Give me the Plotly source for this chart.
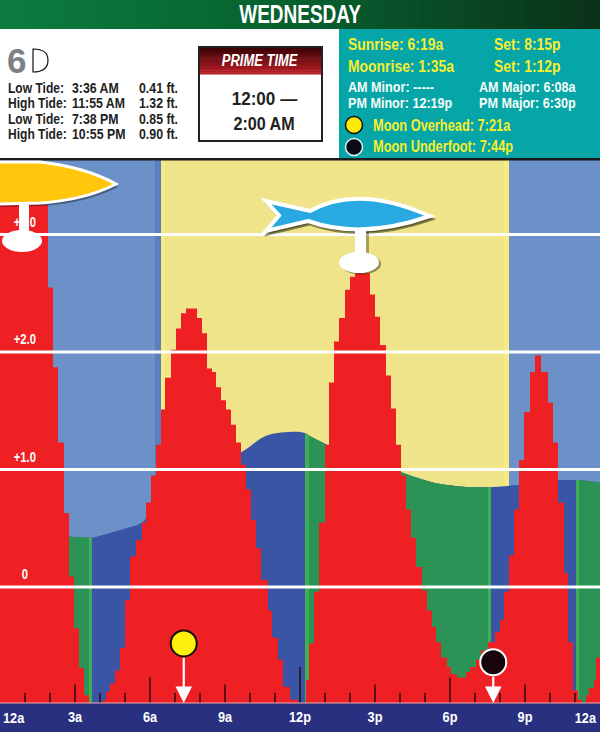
import plotly.graph_objects as go

# ---------- data (hours after midnight / feet on the chart scale) ----------
step_hours = [0, 1.92, 2.12, 2.32, 2.56, 2.76, 2.96, 3.16, 3.36, 3.56,
              4.12, 4.24, 4.40, 4.60, 4.80, 5.00, 5.20, 5.44, 5.68, 5.84, 6.04, 6.24, 6.44, 6.60, 6.84, 7.04, 7.24, 7.44,
              7.88, 8.08, 8.28, 8.48, 8.64, 8.84, 9.04, 9.24, 9.44, 9.64, 9.84, 10.04, 10.24, 10.44, 10.72, 10.88, 11.12, 11.32, 11.60, 11.92,
              12.24, 12.36, 12.56, 12.76, 13.00, 13.16, 13.36, 13.56, 13.80, 14.00, 14.20,
              14.80, 15.00, 15.20, 15.44, 15.64, 15.84, 16.04, 16.24, 16.44, 16.64, 16.88, 17.08, 17.28, 17.44, 17.64, 17.88, 18.04, 18.28,
              18.64, 18.80, 19.04, 19.24, 19.52, 19.80, 20.00, 20.16, 20.36, 20.56, 20.76, 20.96, 21.20, 21.40,
              21.64, 21.92, 22.12, 22.32, 22.56, 22.72, 22.92, 23.12, 23.28, 23.44, 23.56, 23.76, 23.84, 24]
step_feet = [3.25, 2.55, 1.87, 1.23, 0.63, 0.09, -0.35, -0.69, -0.92, -0.99,
             -0.96, -0.89, -0.82, -0.71, -0.52, -0.11, 0.26, 0.40, 0.55, 0.72, 0.95, 1.21, 1.51, 1.78, 2.02, 2.20, 2.33, 2.37,
             2.29, 2.16, 1.86, 1.83, 1.70, 1.59, 1.51, 1.38, 1.23, 1.04, 0.83, 0.57, 0.33, 0.06, -0.20, -0.43, -0.62, -0.85, -0.96, -0.99,
             -0.79, -0.48, -0.04, 0.55, 1.21, 1.74, 2.09, 2.29, 2.53, 2.64, 2.67,
             2.49, 2.30, 2.06, 1.80, 1.52, 1.21, 0.95, 0.66, 0.42, 0.17, -0.03, -0.20, -0.34, -0.47, -0.60, -0.68, -0.74, -0.77,
             -0.72, -0.68, -0.62, -0.54, -0.47, -0.38, -0.28, -0.04, 0.27, 0.66, 1.08, 1.49, 1.83, 1.97,
             1.83, 1.57, 1.23, 0.72, 0.12, -0.47, -0.88, -0.96, -0.99, -0.92, -0.86, -0.79, -0.60, -0.60]

tide_hours = [0, 1.2, 2.4, 2.76, 3.56, 3.68, 4.40, 5.20, 5.68, 7.00, 9.60, 10.68, 12.00, 12.20, 12.36, 13.00, 16.00, 17.32, 18.80, 19.52, 19.64, 20.80, 22.40, 23.04, 23.16, 24]
tide_feet = [0.95, 0.70, 0.46, 0.43, 0.42, 0.42, 0.46, 0.51, 0.55, 0.87, 1.14, 1.29, 1.32, 1.31, 1.29, 1.22, 0.98, 0.89, 0.85, 0.85, 0.85, 0.87, 0.91, 0.91, 0.91, 0.89]
green_spans = [(2.76, 3.68), (12.20, 13.00), (16.00, 19.64), (23.04, 24)]
bright_spans = [(3.56, 3.68), (12.20, 12.36), (19.52, 19.64), (23.04, 23.16)]

sky_start = [0, 6.44, 20.36]
sky_end = [6.44, 20.36, 24]
sky_color = ["#6C90C8", "#EFE48A", "#6C90C8"]
edge_start = [6.20, 6.44, 20.16]
edge_end = [6.44, 6.60, 20.36]
edge_color = ["#5A7EBE", "#F7EC84", "#F7EC84"]

grid_levels = [3, 2, 1, 0]
grid_labels = ["+3.0", "+2.0", "+1.0", "0"]
tick_hours = list(range(1, 24))
tick_feet = [-0.90, -0.90, -0.83, -0.90, -0.90, -0.77, -0.90, -0.90, -0.83, -0.90, -0.90, -0.68,
             -0.90, -0.90, -0.83, -0.90, -0.90, -0.77, -0.90, -0.90, -0.83, -0.90, -0.90]
hour_ticks = [3, 6, 9, 12, 15, 18, 21]
hour_labels = ["3a", "6a", "9a", "12p", "3p", "6p", "9p"]
moon_hours = [7.35, 19.73]
moon_feet = [-0.48, -0.64]

tide_rows = [("Low Tide:", "3:36 AM", "0.41 ft."), ("High Tide:", "11:55 AM", "1.32 ft."),
             ("Low Tide:", "7:38 PM", "0.85 ft."), ("High Tide:", "10:55 PM", "0.90 ft.")]

# ---------- palette / layout constants ----------
RED, WATER, GREEN, BRIGHT = "#EE2024", "#3A55A5", "#2B9355", "#3FAF55"
NAVY, TEAL, YEL = "#29307F", "#05A5A8", "#F6EF2E"
SANS = "Liberation Sans, Arial, sans-serif"
TOP, BOT = 160, 703
Y_MIN, Y_MAX = -0.987, 3.634


def px(x):
    return x / 600


def py(y):
    return (BOT - y) / (BOT - TOP)


fig = go.Figure()


def area(xs, ys, color, shape="linear"):
    fig.add_trace(go.Scatter(x=[xs[0], xs[-1]], y=[Y_MIN, Y_MIN], mode="lines", line=dict(width=0),
                             showlegend=False, hoverinfo="skip"))
    fig.add_trace(go.Scatter(x=xs, y=ys, mode="lines", line=dict(width=0, shape=shape, color=color),
                             fill="tonexty", fillcolor=color, showlegend=False, hoverinfo="skip"))


def bars(starts, ends, colors):
    fig.add_trace(go.Bar(x=[(a + b) / 2 for a, b in zip(starts, ends)],
                         width=[b - a for a, b in zip(starts, ends)],
                         y=[Y_MAX - Y_MIN] * len(starts), base=Y_MIN,
                         marker=dict(color=colors, line=dict(width=0)),
                         showlegend=False, hoverinfo="skip"))


bars(sky_start, sky_end, sky_color)
bars(edge_start, edge_end, edge_color)

area(tide_hours, tide_feet, WATER, "spline")


def span_points(a, b):
    pts = [(h, f) for h, f in zip(tide_hours, tide_feet) if a <= h <= b]
    return [p[0] for p in pts], [p[1] for p in pts]


for a, b in green_spans:
    xs, ys = span_points(a, b)
    area(xs, ys, GREEN, "spline")
for a, b in bright_spans:
    xs, ys = span_points(a, b)
    area(xs, ys, BRIGHT)

area(step_hours, step_feet, RED, "hv")

# hour tick marks
tx, ty = [], []
for h, f in zip(tick_hours, tick_feet):
    tx += [h, h, None]
    ty += [Y_MIN, f, None]
fig.add_trace(go.Scatter(x=tx, y=ty, mode="lines", line=dict(color="#2A0A10", width=1.5),
                         showlegend=False, hoverinfo="skip"))

# moon markers
fig.add_trace(go.Scatter(x=moon_hours, y=moon_feet, mode="markers",
                         marker=dict(size=26, color=["#FFEF0C", "#16060C"],
                                     line=dict(width=2, color=["#111111", "#FFFFFF"])),
                         showlegend=False, hoverinfo="skip"))

shapes = []
annots = []


def rect(x0, y0, x1, y1, color, line=None, lw=0, layer="above"):
    shapes.append(dict(type="rect", xref="paper", yref="paper", x0=px(x0), x1=px(x1), y0=py(y0), y1=py(y1),
                       fillcolor=color, line=dict(color=line or color, width=lw), layer=layer))


def lerp_hex(c0, c1, t):
    a = [int(c0[i:i + 2], 16) for i in (1, 3, 5)]
    b = [int(c1[i:i + 2], 16) for i in (1, 3, 5)]
    return "#%02X%02X%02X" % tuple(round(p + (q - p) * t) for p, q in zip(a, b))


def path(points, fill, line=None, lw=0, dx=0, dy=0):
    parts = []
    for cmd in points:
        op = cmd[0]
        vals = cmd[1:]
        coords = []
        for i in range(0, len(vals), 2):
            coords.append(f"{px(vals[i] + dx):.5f},{py(vals[i + 1] + dy):.5f}")
        parts.append(op + " " + " ".join(coords))
    shapes.append(dict(type="path", xref="paper", yref="paper", path=" ".join(parts) + " Z",
                       fillcolor=fill, line=dict(color=line or fill, width=lw)))


def ellipse(cx, cy, rx, ry, fill, line=None, lw=0):
    shapes.append(dict(type="circle", xref="paper", yref="paper", x0=px(cx - rx), x1=px(cx + rx),
                       y0=py(cy - ry), y1=py(cy + ry), fillcolor=fill, line=dict(color=line or fill, width=lw)))


def text(x, y, s, size, color="#222222", anchor="left", bold=True, italic=False, k=1.0):
    t = s
    if bold:
        t = f"<b>{t}</b>"
    if italic:
        t = f"<i>{t}</i>"
    annots.append(dict(xref="paper", yref="paper", x=px(x), y=py(y), text=t, showarrow=False,
                       xanchor=anchor, yanchor="middle", borderpad=0, name=str(k),
                       font=dict(family=SANS, size=size, color=color)))


# header gradient
n = 40
for i in range(n):
    x0, x1 = 600 * i / n, 600 * (i + 1) / n + 0.5
    t = i / (n - 1)
    c = lerp_hex("#0B7B40", "#07602F", min(t / 0.5, 1)) if t < 0.5 else lerp_hex("#07602F", "#0A3319", (t - 0.5) / 0.5)
    rect(x0, 0, x1, 29, c)
rect(0, 29, 339, 158, "#FFFFFF")
rect(339, 29, 600, 158, TEAL)
rect(0, 158, 600, 160.5, "#1B1B1B")
rect(0, 703, 600, 732, NAVY, layer="below")
rect(0, 702.5, 600, 703.5, "#F4A9A9")

# grid lines above the bars
for lvl in grid_levels:
    shapes.append(dict(type="line", xref="paper", yref="y", x0=0, x1=1, y0=lvl, y1=lvl,
                       line=dict(color="#FFFFFF", width=3)))

# sun icon
sun = [("M", -3, 162), ("L", 40, 162), ("Q", 85, 167, 116, 184), ("Q", 85, 200, 40, 203), ("L", -3, 204)]
path(sun, "rgba(0,0,0,0.35)", dx=2, dy=3)
path(sun, "#FFC60B", "#FFFFFF", 3)
rect(19, 205, 29, 234, "#FFFFFF")
ellipse(22, 241, 20, 11, "#FFFFFF")

# fish icon
fish = [("M", 266, 201), ("L", 310, 211), ("Q", 358, 184, 430, 216), ("Q", 362, 240, 308, 221),
        ("L", 266, 231), ("L", 279, 215.5)]
path(fish, "rgba(30,30,0,0.5)", "rgba(30,30,0,0.5)", 3, dx=2, dy=3)
rect(356, 232, 369, 256, "rgba(30,30,0,0.35)")
ellipse(361, 264, 20, 10.5, "rgba(30,30,0,0.45)")
path(fish, "#29A9E1", "#FFFFFF", 4)
rect(355, 230, 366, 256, "#FFFFFF")
ellipse(359, 262.5, 20, 10.5, "#FFFFFF")

# moon arrows
for h, f in zip(moon_hours, moon_feet):
    annots.append(dict(x=h, y=Y_MIN, ax=h, ay=f - 0.11, xref="x", yref="y", axref="x", ayref="y", text="",
                       showarrow=True, arrowhead=2, arrowsize=1.5, arrowwidth=2.2, arrowcolor="#FFFFFF"))

# grid labels
for lvl, lab in zip(grid_levels, grid_labels):
    annots.append(dict(x=1.0, y=lvl, xref="x", yref="y", text=f"<b>{lab}</b>", showarrow=False,
                       yanchor="bottom", yshift=3, name="0.8", font=dict(family=SANS, size=14, color="#FFFFFF")))

# axis end labels
text(2, 717, "12a", 15, "#FFFFFF", k=0.85)
text(598, 717, "12a", 15, "#FFFFFF", "right", k=0.85)

# title
text(300, 14, "WEDNESDAY", 25, "#FFFFFF", "center", k=0.76)

# left panel
text(6, 60, "6", 35, "#7D8083")
path([("M", 33, 49), ("L", 33, 72), ("Q", 48, 72, 48, 60), ("Q", 48, 49, 33, 49)], "rgba(255,255,255,0)", "#111111", 1.2)
for row, y in zip(tide_rows, [88, 103, 119, 134]):
    text(7, y, row[0], 14, k=0.86)
    text(70.5, y, row[1], 14, k=0.88)
    text(138, y, row[2], 14, k=0.88)

# prime time box
rect(199, 47, 322, 141, "#FFFFFF", "#222222", 2)
m = 14
for i in range(m):
    y0 = 48 + 26 * i / m
    rect(200, y0, 321, y0 + 26 / m + 0.5, lerp_hex("#3E0205", "#B81F26", i / (m - 1)))
text(260.5, 61, "PRIME TIME", 16, "#FFFFFF", "center", italic=True, k=0.81)
text(264, 99, "12:00 —", 19, "#222222", "center", k=0.9)
text(264, 124, "2:00 AM", 19, "#222222", "center", k=0.85)

# teal panel
text(347, 44, "Sunrise: 6:19a", 16, YEL, k=0.87)
text(493, 44, "Set: 8:15p", 16, YEL, k=0.87)
text(347, 66, "Moonrise: 1:35a", 16, YEL, k=0.87)
text(493, 66, "Set: 1:12p", 16, YEL, k=0.87)
text(347, 87, "AM Minor: -----", 14, "#F4FBF6", k=0.9)
text(478, 87, "AM Major: 6:08a", 14, "#F4FBF6", k=0.9)
text(347, 103, "PM Minor: 12:19p", 14, "#F4FBF6", k=0.9)
text(478, 103, "PM Major: 6:30p", 14, "#F4FBF6", k=0.9)
ellipse(354, 125, 8.5, 8.5, "#FFE80C", "#111111", 1.5)
ellipse(354, 147, 8.5, 8.5, "#0A0A18", "#E8F4F4", 1.5)
text(372, 125, "Moon Overhead: 7:21a", 16, YEL, k=0.8)
text(372, 146, "Moon Underfoot: 7:44p", 16, YEL, k=0.8)

fig.update_layout(
    width=600, height=732, margin=dict(l=0, r=0, t=TOP, b=732 - BOT),
    paper_bgcolor="#FFFFFF", plot_bgcolor="#6C90C8", showlegend=False,
    barmode="overlay", bargap=0,
    shapes=shapes, annotations=annots,
    xaxis=dict(range=[0, 24], tickmode="array", tickvals=hour_ticks, ticktext=[f"<b>{s}</b>" for s in hour_labels],
               ticks="", showgrid=False, zeroline=False, showline=False, ticklabelstandoff=3,
               tickfont=dict(family=SANS, size=15, color="#FFFFFF")),
    yaxis=dict(range=[Y_MIN, Y_MAX], visible=False),
)

POST = """
document.body.style.margin='0';document.body.style.overflow='hidden';
var gd=document.querySelector('.plotly-graph-div');
function squeeze(t,k){var w=t.getComputedTextLength();t.setAttribute('lengthAdjust','spacingAndGlyphs');t.setAttribute('textLength',w*k);return w;}
gd.querySelectorAll('.annotation').forEach(function(a){
  var ann=gd.layout.annotations[+a.getAttribute('data-index')];
  var k=parseFloat(ann.name);if(!k||k===1)return;
  var t=a.querySelector('text');if(!t)return;
  var w=squeeze(t,k);var x=parseFloat(t.getAttribute('x'))||0;
  if(ann.xanchor==='left'){t.style.textAnchor='start';t.setAttribute('x',x-w/2);}
  if(ann.xanchor==='right'){t.style.textAnchor='end';t.setAttribute('x',x+w/2);}
});
gd.querySelectorAll('.xtick text').forEach(function(t){squeeze(t,0.85);});
"""
fig.write_html("out.html", config={"displayModeBar": False}, post_script=POST)
